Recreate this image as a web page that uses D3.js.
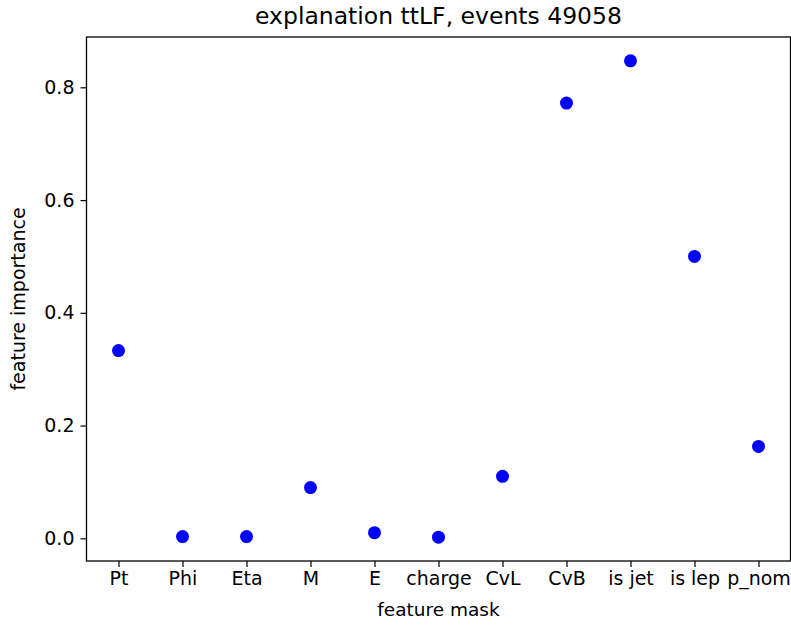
<!DOCTYPE html>
<html>
<head>
<meta charset="utf-8">
<script src="https://cdn.jsdelivr.net/npm/d3@7"></script>
<style>
  html, body { margin: 0; padding: 0; background: #fff; }
  svg { display: block; font-family: "DejaVu Sans", sans-serif; }
</style>
</head>
<body>
<svg id="chart" width="791" height="625"></svg>
<script>
// Feature names along the x axis
const features = ["Pt", "Phi", "Eta", "M", "E", "charge", "CvL", "CvB", "is jet", "is lep", "p_nom"];
// Importance of each feature
const importance = [0.333, 0.003, 0.003, 0.09, 0.01, 0.002, 0.11, 0.772, 0.847, 0.5, 0.163];
// Y tick values
const yTicks = [0.0, 0.2, 0.4, 0.6, 0.8];

const titleText = "explanation ttLF, events 49058";
const xLabel = "feature mask";
const yLabel = "feature importance";

const W = 791, H = 625;
const plot = { left: 86.5, right: 790.5, top: 37, bottom: 561 };

const svg = d3.select("#chart");
svg.append("rect").attr("width", W).attr("height", H).attr("fill", "#fff");

// x: category index with half-step padding on each side
const x = d3.scaleLinear()
  .domain([-0.5, features.length - 0.5])
  .range([plot.left, plot.right]);

// y: data extent padded by 5% of its span
const [lo, hi] = d3.extent(importance);
const pad = (hi - lo) * 0.05;
const y = d3.scaleLinear()
  .domain([lo - pad, hi + pad])
  .range([plot.bottom, plot.top]);

const xAxis = d3.axisBottom(x)
  .tickValues(d3.range(features.length))
  .tickFormat(i => features[i])
  .tickSize(6)
  .tickSizeOuter(0)
  .tickPadding(5);

const yAxis = d3.axisLeft(y)
  .tickValues(yTicks)
  .tickFormat(d3.format(".1f"))
  .tickSize(6)
  .tickSizeOuter(0)
  .tickPadding(6);

const gx = svg.append("g")
  .attr("transform", `translate(0,${plot.bottom})`)
  .call(xAxis);
const gy = svg.append("g")
  .attr("transform", `translate(${plot.left},0)`)
  .call(yAxis);

[gx, gy].forEach(g => {
  g.select(".domain").remove();
  g.selectAll(".tick line").attr("stroke", "#000").attr("stroke-width", 1.2);
  g.selectAll(".tick text")
    .attr("fill", "#000")
    .style("font-family", "'DejaVu Sans', sans-serif")
    .style("font-size", "19px");
});

// Points
svg.append("g")
  .selectAll("circle")
  .data(importance)
  .join("circle")
  .attr("cx", (d, i) => x(i))
  .attr("cy", d => y(d))
  .attr("r", 6.5)
  .attr("fill", "#0000ff");

// Axes frame
svg.append("rect")
  .attr("x", plot.left)
  .attr("y", plot.top)
  .attr("width", plot.right - plot.left)
  .attr("height", plot.bottom - plot.top)
  .attr("fill", "none")
  .attr("stroke", "#000")
  .attr("stroke-width", 1.3);

// Title and axis labels
svg.append("text")
  .attr("x", (plot.left + plot.right) / 2)
  .attr("y", 24)
  .attr("text-anchor", "middle")
  .style("font-size", "23.5px")
  .attr("fill", "#000")
  .text(titleText);

svg.append("text")
  .attr("x", (plot.left + plot.right) / 2)
  .attr("y", 616)
  .attr("text-anchor", "middle")
  .style("font-size", "18.5px")
  .attr("fill", "#000")
  .text(xLabel);

svg.append("text")
  .attr("transform", `translate(25,${(plot.top + plot.bottom) / 2}) rotate(-90)`)
  .attr("text-anchor", "middle")
  .style("font-size", "19px")
  .attr("fill", "#000")
  .text(yLabel);
</script>
</body>
</html>
